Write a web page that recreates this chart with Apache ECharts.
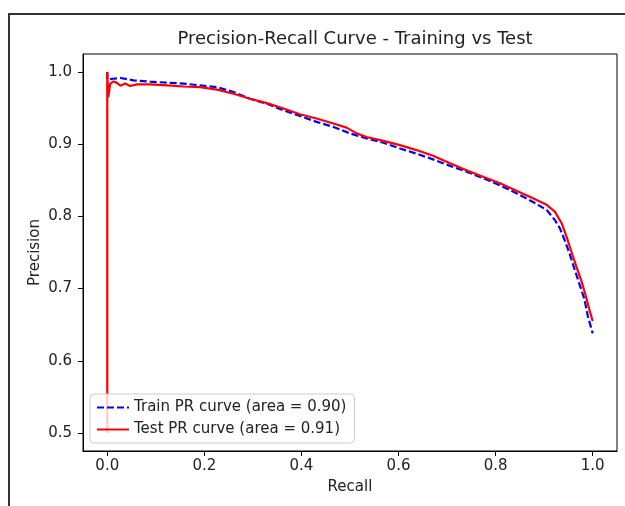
<!DOCTYPE html>
<html>
<head>
<meta charset="utf-8">
<script src="https://cdn.jsdelivr.net/npm/echarts@6/dist/echarts.min.js"></script>
<style>html,body{margin:0;padding:0;background:#fff}#c{width:625px;height:506px}</style>
</head>
<body>
<div id="c"></div>
<script>
const xTicks = [0, 0.2, 0.4, 0.6, 0.8, 1.0];
const yTicks = [0.5, 0.6, 0.7, 0.8, 0.9, 1.0];

const trainRecall = [0, 0, 0.003, 0.027, 0.054, 0.088, 0.123, 0.157, 0.191, 0.226, 0.26, 0.294, 0.329, 0.363, 0.397, 0.431, 0.466, 0.5, 0.534, 0.569, 0.603, 0.637, 0.671, 0.706, 0.74, 0.774, 0.809, 0.843, 0.877, 0.905, 0.922, 0.932, 0.942, 0.953, 0.963, 0.973, 0.983, 0.99, 1.0];
const trainPrecision = [1.0, 0.99, 0.9895, 0.9918, 0.9885, 0.9867, 0.9853, 0.984, 0.9816, 0.979, 0.9724, 0.963, 0.956, 0.947, 0.939, 0.931, 0.924, 0.915, 0.908, 0.902, 0.894, 0.887, 0.879, 0.870, 0.862, 0.853, 0.843, 0.832, 0.820, 0.809, 0.795, 0.784, 0.7675, 0.747, 0.726, 0.7054, 0.685, 0.6616, 0.638];

const testRecall = [0, 0, 0.002, 0.006, 0.013, 0.02, 0.027, 0.037, 0.047, 0.061, 0.088, 0.123, 0.157, 0.191, 0.226, 0.26, 0.294, 0.329, 0.363, 0.397, 0.431, 0.466, 0.493, 0.514, 0.534, 0.569, 0.603, 0.637, 0.671, 0.706, 0.74, 0.774, 0.809, 0.843, 0.877, 0.905, 0.922, 0.936, 0.946, 0.956, 0.966, 0.977, 0.986, 0.993, 1.0];
const testPrecision = [0.5, 1.0, 0.965, 0.984, 0.987, 0.985, 0.981, 0.984, 0.9807, 0.983, 0.983, 0.9816, 0.980, 0.979, 0.9757, 0.970, 0.963, 0.957, 0.9494, 0.9416, 0.9356, 0.9287, 0.923, 0.915, 0.910, 0.9047, 0.8988, 0.8919, 0.884, 0.8735, 0.864, 0.855, 0.846, 0.8357, 0.825, 0.816, 0.8066, 0.7906, 0.772, 0.7514, 0.731, 0.710, 0.689, 0.671, 0.655];

const trainName = 'Train PR curve (area = 0.90)';
const testName = 'Test PR curve (area = 0.91)';

const zip = (a, b) => a.map((v, i) => [v, b[i]]);
const FONT = 'DejaVu Sans';

const chart = echarts.init(document.getElementById('c'), null, {renderer: 'canvas'});
chart.setOption({
  backgroundColor: '#fff',
  animation: false,
  textStyle: {fontFamily: FONT},
  title: {
    text: 'Precision-Recall Curve - Training vs Test',
    left: 350, top: 25, textAlign: 'center',
    textStyle: {fontFamily: FONT, fontSize: 18, fontWeight: 'normal', color: '#222'}
  },
  graphic: [{
    type: 'rect', silent: true, z: 100,
    shape: {x: 9, y: 14, width: 700, height: 600},
    style: {fill: 'none', stroke: '#333', lineWidth: 2}
  }],
  grid: {left: 83, right: 8, top: 54, bottom: 55, show: true, borderColor: '#000', borderWidth: 1, backgroundColor: '#fff'},
  legend: {
    orient: 'vertical', left: 90, top: 394,
    padding: [6, 8, 6, 6], itemGap: 7, itemWidth: 32, itemHeight: 14,
    backgroundColor: 'rgba(255,255,255,0.8)', borderColor: '#ccc', borderWidth: 1, borderRadius: 4,
    itemStyle: {opacity: 0},
    textStyle: {fontFamily: FONT, fontSize: 15, color: '#222'},
    data: [trainName, testName]
  },
  xAxis: {
    type: 'value', min: -0.05, max: 1.05,
    name: 'Recall', nameLocation: 'middle', nameGap: 29,
    nameTextStyle: {fontFamily: FONT, fontSize: 15, color: '#222'},
    axisLine: {show: true, onZero: false, lineStyle: {color: '#000'}},
    axisTick: {show: true, inside: false, length: 5, customValues: xTicks, lineStyle: {color: '#000'}},
    axisLabel: {customValues: xTicks, margin: 8, fontFamily: FONT, fontSize: 15, color: '#222', formatter: v => v.toFixed(1)},
    splitLine: {show: false}
  },
  yAxis: {
    type: 'value', min: 0.475, max: 1.025,
    name: 'Precision', nameLocation: 'middle', nameGap: 40, nameRotate: 90, nameMoveOverlap: false,
    nameTextStyle: {fontFamily: FONT, fontSize: 15, color: '#222'},
    axisLine: {show: true, onZero: false, lineStyle: {color: '#000'}},
    axisTick: {show: true, inside: false, length: 5, customValues: yTicks, lineStyle: {color: '#000'}},
    axisLabel: {customValues: yTicks, margin: 11, fontFamily: FONT, fontSize: 15, color: '#222', formatter: v => v.toFixed(1)},
    splitLine: {show: false}
  },
  series: [
    {
      name: trainName, type: 'line', data: zip(trainRecall, trainPrecision),
      symbol: 'none', showSymbol: false,
      lineStyle: {color: '#0000ff', width: 2.2, type: [7, 3]},
      itemStyle: {color: '#0000ff'}
    },
    {
      name: testName, type: 'line', data: zip(testRecall, testPrecision),
      symbol: 'none', showSymbol: false,
      lineStyle: {color: '#ff0000', width: 2.2, type: 'solid'},
      itemStyle: {color: '#ff0000'}
    }
  ]
});
</script>
</body>
</html>
